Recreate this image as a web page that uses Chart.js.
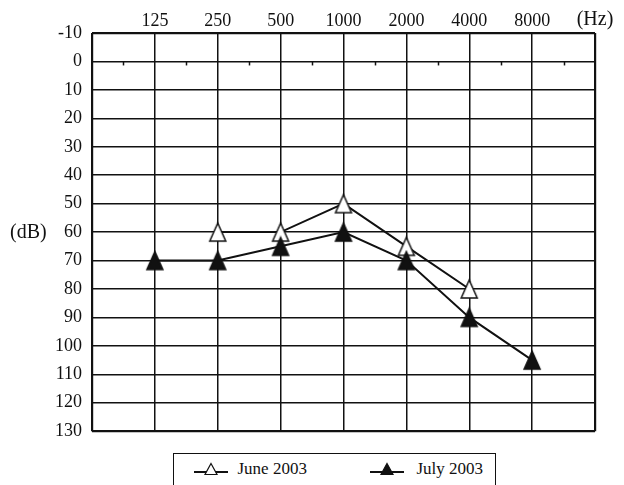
<!DOCTYPE html>
<html>
<head>
<meta charset="utf-8">
<script src="https://cdn.jsdelivr.net/npm/chart.js@4.4.1/dist/chart.umd.min.js"></script>
<style>
  html, body { margin: 0; padding: 0; background: #fff; }
  body { width: 624px; height: 485px; position: relative; overflow: hidden; font-family: "Liberation Serif", serif; }
  #wrap { position: absolute; left: 0; top: 0; width: 624px; height: 452px; }
  #legend { position: absolute; left: 173px; top: 453px; width: 323px; height: 50px; border: 1.5px solid #111; box-sizing: border-box; }
  .sym { position: absolute; top: 7.5px; }
  .txt { position: absolute; top: 4.5px; font-size: 17px; line-height: 20px; color: #111; white-space: nowrap; }
</style>
</head>
<body>
<div id="wrap"><canvas id="chart"></canvas></div>
<div id="legend"></div>
<script>
const freqLabels = ["125", "250", "500", "1000", "2000", "4000", "8000"];
const juneValues = [null, 60, 60, 50, 65, 80, null];
const julyValues = [70, 70, 65, 60, 70, 90, 105];
const seriesNames = ["June 2003", "July 2003"];
const ink = "#111";
const serif = "'Liberation Serif', serif";

function triangle(w, h, fill) {
  const c = document.createElement("canvas");
  c.width = w + 4;
  c.height = h + 4;
  const g = c.getContext("2d");
  g.beginPath();
  g.moveTo(c.width / 2, 2);
  g.lineTo(c.width - 2, h + 2);
  g.lineTo(2, h + 2);
  g.closePath();
  g.fillStyle = fill;
  g.fill();
  g.lineWidth = 1.5;
  g.strokeStyle = ink;
  g.stroke();
  return c;
}

const toPoints = (vals) => vals.map((v, i) => ({ x: i, y: v })).filter((p) => p.y !== null);

const extras = {
  id: "extras",
  afterDraw(chart) {
    const { ctx, scales: { x, y } } = chart;
    ctx.save();
    // small ticks along the 0 dB line
    ctx.strokeStyle = ink;
    ctx.lineWidth = 1.5;
    const y0 = y.getPixelForValue(0);
    for (let i = -0.5; i <= 6.5; i += 1) {
      const px = Math.round(x.getPixelForValue(i)) + 0.5;
      ctx.beginPath();
      ctx.moveTo(px, y0);
      ctx.lineTo(px, y0 + 4);
      ctx.stroke();
    }
    ctx.fillStyle = ink;
    ctx.font = "20px " + serif;
    ctx.textAlign = "left";
    ctx.textBaseline = "middle";
    ctx.fillText("(dB)", 10, y.getPixelForValue(60) + 1);
    ctx.restore();
  },
};

new Chart(document.getElementById("chart"), {
  type: "line",
  data: {
    datasets: [
      {
        label: seriesNames[0],
        data: toPoints(juneValues),
        borderColor: ink,
        borderWidth: 2,
        pointStyle: triangle(16, 18, "#fff"),
        order: 1,
      },
      {
        label: seriesNames[1],
        data: toPoints(julyValues),
        borderColor: ink,
        borderWidth: 2,
        pointStyle: triangle(16, 18, ink),
        order: 0,
      },
    ],
  },
  plugins: [extras],
  options: {
    responsive: true,
    maintainAspectRatio: false,
    animation: false,
    layout: { padding: { right: 29, bottom: 13, top: 0, left: 0 } },
    plugins: { legend: { display: false }, tooltip: { enabled: false } },
    scales: {
      x: {
        type: "linear",
        position: "top",
        min: -1,
        max: 7,
        afterFit: (s) => { s.height = 33; },
        border: { display: false },
        grid: {
          color: ink,
          drawTicks: false,
          lineWidth: (c) => (c.tick && (c.tick.value === -1 || c.tick.value === 7) ? 2.2 : 1.5),
        },
        ticks: {
          stepSize: 1,
          autoSkip: false,
          maxRotation: 0,
          padding: 1,
          color: ink,
          font: (c) => ({ family: serif, size: c.tick && c.tick.value === 7 ? 20 : 18 }),
          callback: (v) => (v >= 0 && v <= 6 ? freqLabels[v] : v === 7 ? "(Hz)" : ""),
        },
      },
      y: {
        reverse: true,
        min: -10,
        max: 130,
        afterFit: (s) => { s.width = 92; },
        border: { display: false },
        grid: {
          color: ink,
          drawTicks: false,
          lineWidth: (c) => (c.tick && (c.tick.value === -10 || c.tick.value === 130) ? 2.2 : 1.5),
        },
        ticks: {
          stepSize: 10,
          padding: 10,
          color: ink,
          font: { family: serif, size: 18 },
        },
      },
    },
  },
});

// legend
const legend = document.getElementById("legend");
const symLeft = [19.5, 195.5];
const txtLeft = [63.5, 242.5];
seriesNames.forEach((name, i) => {
  const fill = i === 0 ? "#fff" : ink;
  const sym = document.createElement("div");
  sym.className = "sym";
  sym.style.left = symLeft[i] + "px";
  sym.innerHTML =
    '<svg width="34" height="14" viewBox="0 0 34 14">' +
    '<line x1="0" y1="10" x2="34" y2="10" stroke="' + ink + '" stroke-width="2"/>' +
    '<polygon points="17,1.5 23,12.5 11,12.5" fill="' + fill + '" stroke="' + ink + '" stroke-width="1.2"/>' +
    "</svg>";
  const txt = document.createElement("div");
  txt.className = "txt";
  txt.style.left = txtLeft[i] + "px";
  txt.textContent = name;
  legend.appendChild(sym);
  legend.appendChild(txt);
});
</script>
</body>
</html>
